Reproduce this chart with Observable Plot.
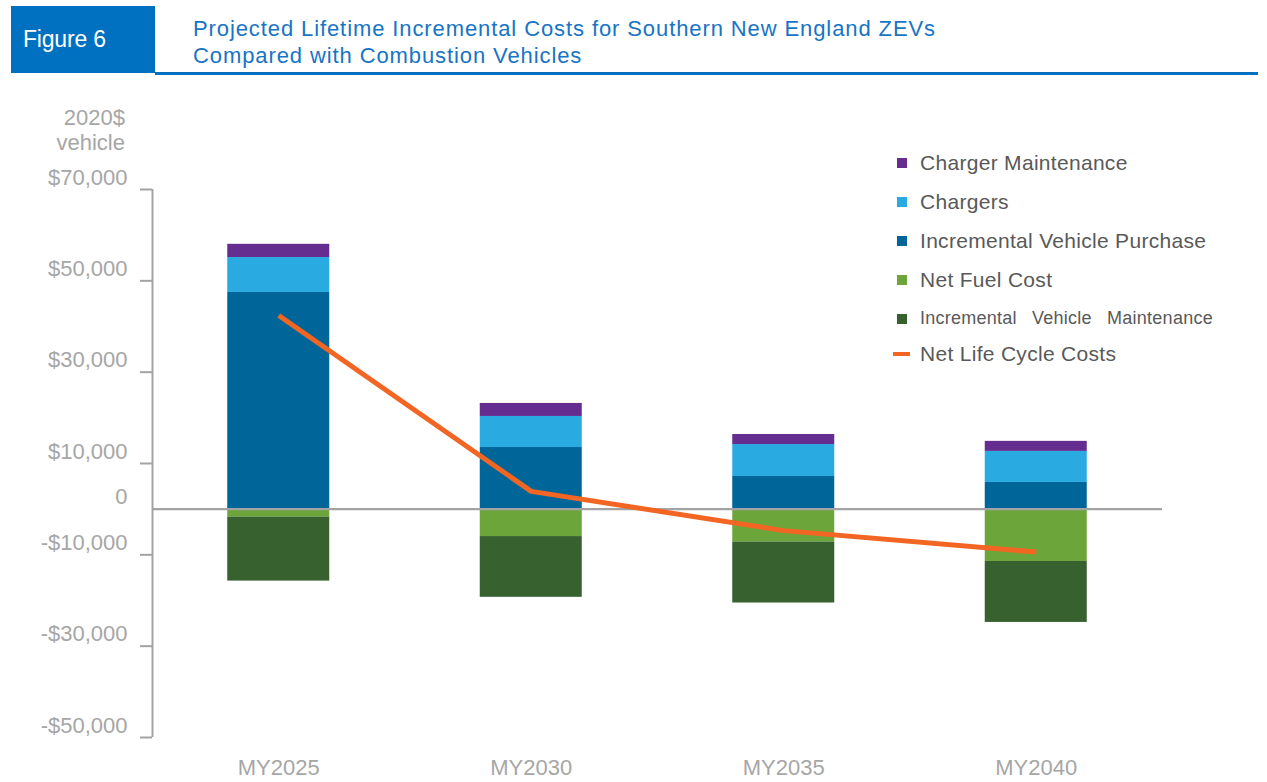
<!DOCTYPE html>
<html>
<head>
<meta charset="utf-8">
<script src="https://cdn.jsdelivr.net/npm/d3@7"></script>
<script src="https://cdn.jsdelivr.net/npm/@observablehq/plot@0.6"></script>
<style>
  html, body { margin: 0; padding: 0; background: #fff; }
  body { font-family: "Liberation Sans", Arial, sans-serif; }
  #wrap { position: relative; width: 1267px; height: 782px; overflow: hidden; }
  #header { position: relative; width: 1267px; height: 80px; }
  #figbox { position: absolute; left: 11px; top: 6px; width: 144px; height: 67px; background: #0070C0; color: #fff;
            font-size: 23px; line-height: 67px; box-sizing: border-box; padding-left: 12px; letter-spacing: -0.2px; }
  #title { position: absolute; left: 193px; top: 15px; font-size: 22px; line-height: 27px; color: #1874C4; letter-spacing: 0.9px; }
  #rule { position: absolute; left: 155px; top: 72px; width: 1103px; height: 2.5px; background: #0070C0; }
  #ylab { position: absolute; right: 1142px; top: 105px; text-align: right; font-size: 22px; line-height: 25px; color: #A6A6A6; }
  #legend { position: absolute; left: 890px; top: 143px; color: #595959; font-size: 21px; letter-spacing: 0.3px; }
  .row { height: 39px; display: flex; align-items: center; white-space: nowrap; }
  .sw { width: 10px; height: 10px; margin-left: 7px; margin-right: 13px; flex: none; }
  .ln { width: 17px; height: 4px; margin-left: 3px; margin-right: 10px; flex: none; }
  .small { font-size: 18px; letter-spacing: 0.25px; word-spacing: 10px; }
  #chart { position: absolute; left: 0; top: 80px; }
</style>
</head>
<body>
<div id="wrap">
  <div id="header">
    <div id="figbox">Figure 6</div>
    <div id="title">Projected Lifetime Incremental Costs for Southern New England ZEVs<br>Compared with Combustion Vehicles</div>
    <div id="rule"></div>
  </div>
  <div id="ylab">2020$<br>vehicle</div>
  <div id="chart"></div>
  <div id="legend"></div>
</div>
<script>
// ---- Data (2020$ per vehicle) ----
const categories = ["MY2025", "MY2030", "MY2035", "MY2040"];
const chargerMaintenance = [2900, 2850, 2200, 2200];
const chargers = [7650, 6800, 7000, 6800];
const incrementalVehiclePurchase = [47450, 13500, 7150, 5850];
const netFuelCost = [-1750, -6000, -7200, -11450];
const incrementalVehicleMaintenance = [-14000, -13300, -13350, -13350];
const netLifeCycleCosts = [42400, 3900, -4700, -9400];
const yTicks = [70000, 50000, 30000, 10000, 0, -10000, -30000, -50000];

const seriesNames = ["Charger Maintenance", "Chargers", "Incremental Vehicle Purchase", "Net Fuel Cost", "Incremental Vehicle Maintenance"];
const seriesColors = ["#662D91", "#29ABE2", "#006699", "#6CA63B", "#37612F"];
const lineName = "Net Life Cycle Costs";
const lineColor = "#F26522";

// stacking order from zero outward
const stackOrder = [
  ["Incremental Vehicle Purchase", incrementalVehiclePurchase],
  ["Chargers", chargers],
  ["Charger Maintenance", chargerMaintenance],
  ["Net Fuel Cost", netFuelCost],
  ["Incremental Vehicle Maintenance", incrementalVehicleMaintenance]
];
const rects = [];
categories.forEach((c, i) => {
  let pos = 0, neg = 0;
  for (const [name, vals] of stackOrder) {
    const v = vals[i];
    if (v >= 0) { rects.push({i, series: name, y1: pos, y2: pos + v}); pos += v; }
    else { rects.push({i, series: name, y1: neg, y2: neg + v}); neg += v; }
  }
});
const lineData = categories.map((c, i) => ({i, v: netLifeCycleCosts[i]}));

const halfBar = 0.202;
const fmt = d => d === 0 ? "0" : (d < 0 ? "-" : "") + "$" + d3.format(",")(Math.abs(d));
const gray = "#A3A3A6";

const chart = Plot.plot({
  width: 1267,
  height: 702,
  marginTop: 109,
  marginBottom: 45,
  marginLeft: 152,
  marginRight: 105,
  style: {fontFamily: "Liberation Sans, Arial, sans-serif", background: "transparent"},
  x: {type: "linear", domain: [-0.5, 3.5], axis: null, label: null},
  y: {domain: [-50000, 70000], axis: null, label: null},
  color: {domain: seriesNames, range: seriesColors},
  marks: [
    Plot.rect(rects, {x1: d => d.i - halfBar, x2: d => d.i + halfBar, y1: "y1", y2: "y2", fill: "series"}),
    Plot.ruleY([0], {stroke: gray, strokeWidth: 2.2}),
    Plot.ruleX([-0.5], {y1: -50000, y2: 70000, stroke: gray, strokeWidth: 2}),
    Plot.axisY({ticks: yTicks.filter(t => t !== 0), tickSize: 12, text: null, label: null, stroke: gray, strokeWidth: 2}),
    Plot.axisY({ticks: yTicks, tickSize: 0, tickPadding: 25, tickFormat: fmt, label: null, fontSize: 22, fill: "#A6A6A6", dy: -12, textAnchor: "end"}),
    Plot.axisX({ticks: [0, 1, 2, 3], tickFormat: i => categories[i], label: null, tickSize: 0, tickPadding: 22, fontSize: 22, fill: "#A6A6A6"}),
    Plot.line(lineData, {x: "i", y: "v", stroke: lineColor, strokeWidth: 5, strokeLinecap: "butt", strokeLinejoin: "miter"})
  ]
});
document.getElementById("chart").appendChild(chart);

// ---- Legend ----
const legend = document.getElementById("legend");
seriesNames.forEach((name, k) => {
  const row = document.createElement("div");
  row.className = "row";
  const sw = document.createElement("span");
  sw.className = "sw";
  sw.style.background = seriesColors[k];
  const tx = document.createElement("span");
  tx.textContent = name;
  if (name === "Incremental Vehicle Maintenance") tx.className = "small";
  row.appendChild(sw); row.appendChild(tx);
  legend.appendChild(row);
});
{
  const row = document.createElement("div");
  row.className = "row";
  row.style.height = "32px";
  const ln = document.createElement("span");
  ln.className = "ln";
  ln.style.background = lineColor;
  const tx = document.createElement("span");
  tx.textContent = lineName;
  row.appendChild(ln); row.appendChild(tx);
  legend.appendChild(row);
}
</script>
</body>
</html>
